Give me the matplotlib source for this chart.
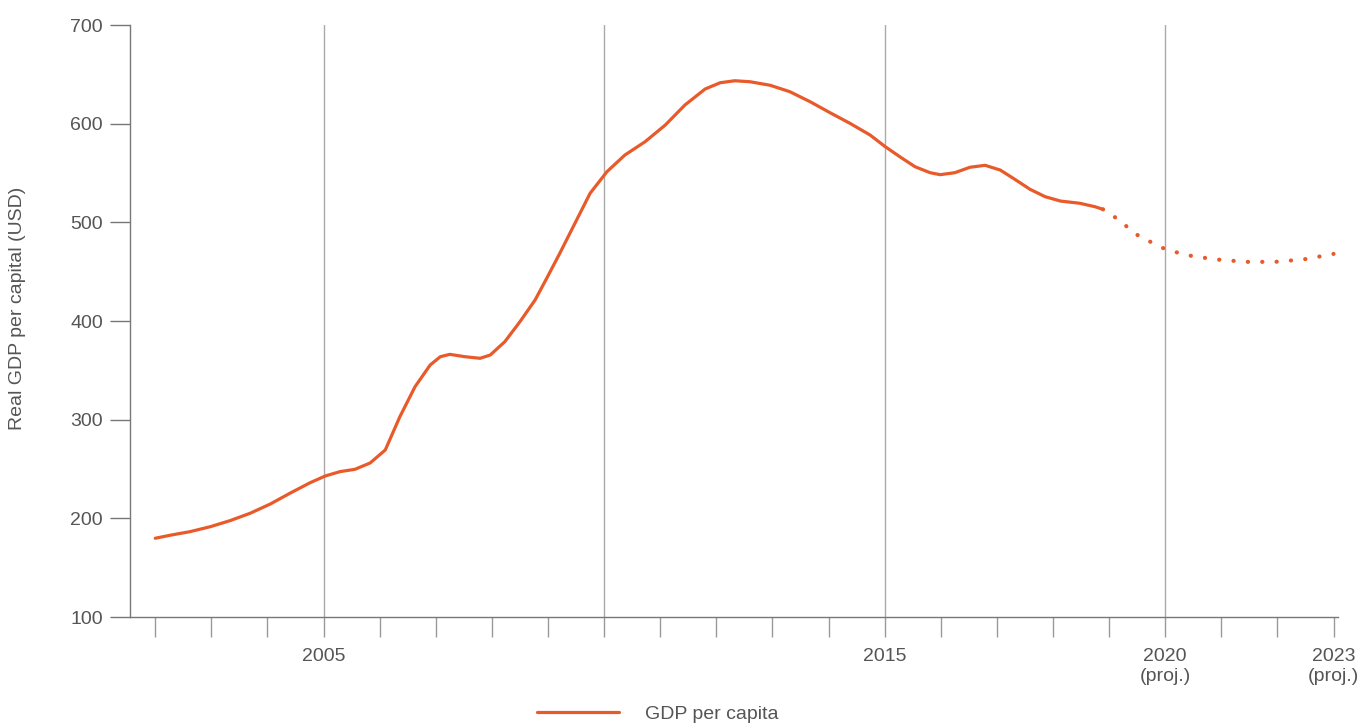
import matplotlib.pyplot as plt

plt.rcParams['font.family'] = ['Liberation Sans', 'DejaVu Sans']

years = [2002.00, 2002.26, 2002.62, 2002.98, 2003.33, 2003.69, 2004.05, 2004.40,
         2004.76, 2005.03, 2005.29, 2005.56, 2005.83, 2006.10, 2006.36, 2006.63,
         2006.90, 2007.08, 2007.25, 2007.52, 2007.79, 2007.97, 2008.23, 2008.50,
         2008.77, 2008.98, 2009.21, 2009.48, 2009.75, 2010.05, 2010.37, 2010.73,
         2011.09, 2011.44, 2011.80, 2012.07, 2012.33, 2012.60, 2012.96, 2013.31,
         2013.67, 2014.03, 2014.38, 2014.74, 2015.01, 2015.27, 2015.54, 2015.81,
         2015.99, 2016.25, 2016.52, 2016.79, 2017.06, 2017.32, 2017.59, 2017.86,
         2018.13, 2018.48, 2018.75, 2018.89]
gdp = [179.8, 182.8, 186.5, 191.5, 197.6, 205.1, 214.5, 225.4,
       236.1, 242.9, 247.3, 249.7, 256.1, 269.3, 303.0, 333.4,
       355.4, 363.8, 366.2, 363.8, 362.2, 365.5, 379.0, 399.3,
       421.3, 443.6, 468.6, 499.0, 529.4, 551.3, 568.2, 581.7,
       598.6, 618.9, 635.1, 641.5, 643.5, 642.5, 638.9, 632.4,
       622.3, 611.0, 600.4, 588.5, 576.7, 566.5, 556.4, 550.3,
       548.3, 550.3, 555.8, 557.8, 553.0, 543.6, 533.5, 526.0,
       521.6, 519.3, 515.8, 513.2]

# projection
proj_years = [2018.89, 2019.10, 2019.53, 2020.03, 2020.51, 2021.01, 2021.51, 2022.01,
              2022.51, 2023.00]
proj_gdp = [513.2, 505.4, 486.1, 472.0, 465.4, 461.8, 459.8, 460.1, 462.8, 468.0]

tick_years = list(range(2002, 2024))
tick_labels = {2005: '2005', 2015: '2015', 2020: '2020\n(proj.)', 2023: '2023\n(proj.)'}
grid_years = [2005, 2010, 2015, 2020]

color = '#E95A2B'
text_col = '#555555'

fig = plt.figure(figsize=(13.59, 7.24), dpi=100)
ax = fig.add_axes([130 / 1359, 1 - 617 / 724, 1208 / 1359, 592 / 724])

for g in grid_years:
    ax.axvline(g, color='#aaaaaa', lw=1.0, zorder=1)

ax.plot(years, gdp, color=color, lw=2.3, solid_capstyle='round',
        solid_joinstyle='round', zorder=3, label='GDP per capita')
ax.plot(proj_years, proj_gdp, color=color, lw=3.0, linestyle=(0, (0.05, 3.4)),
        dash_capstyle='round', zorder=3)

ax.set_xlim(2001.55, 2023.08)
ax.set_ylim(100, 700)
ax.set_yticks(range(100, 701, 100))
ax.set_xticks(tick_years)
ax.set_xticklabels([tick_labels.get(y, '') for y in tick_years])

for s in ['top', 'right']:
    ax.spines[s].set_visible(False)
for s in ['left', 'bottom']:
    ax.spines[s].set_color('#777777')
    ax.spines[s].set_linewidth(1.0)

ax.tick_params(axis='y', length=14.4, width=1.0, color='#777777', pad=5,
               labelsize=14, labelcolor=text_col)
ax.tick_params(axis='x', length=14.4, width=1.0, color='#999999', pad=8,
               labelsize=14, labelcolor=text_col)

ax.set_ylabel('Real GDP per capital (USD)', fontsize=14, color=text_col)
ax.yaxis.set_label_coords(-0.086, 0.521)

fig.legend(loc='center', bbox_to_anchor=(0.484, 0.0138), frameon=False,
           fontsize=14, handlelength=4.2, handletextpad=1.35, labelcolor=text_col)

fig.savefig('out.png', dpi=100)
